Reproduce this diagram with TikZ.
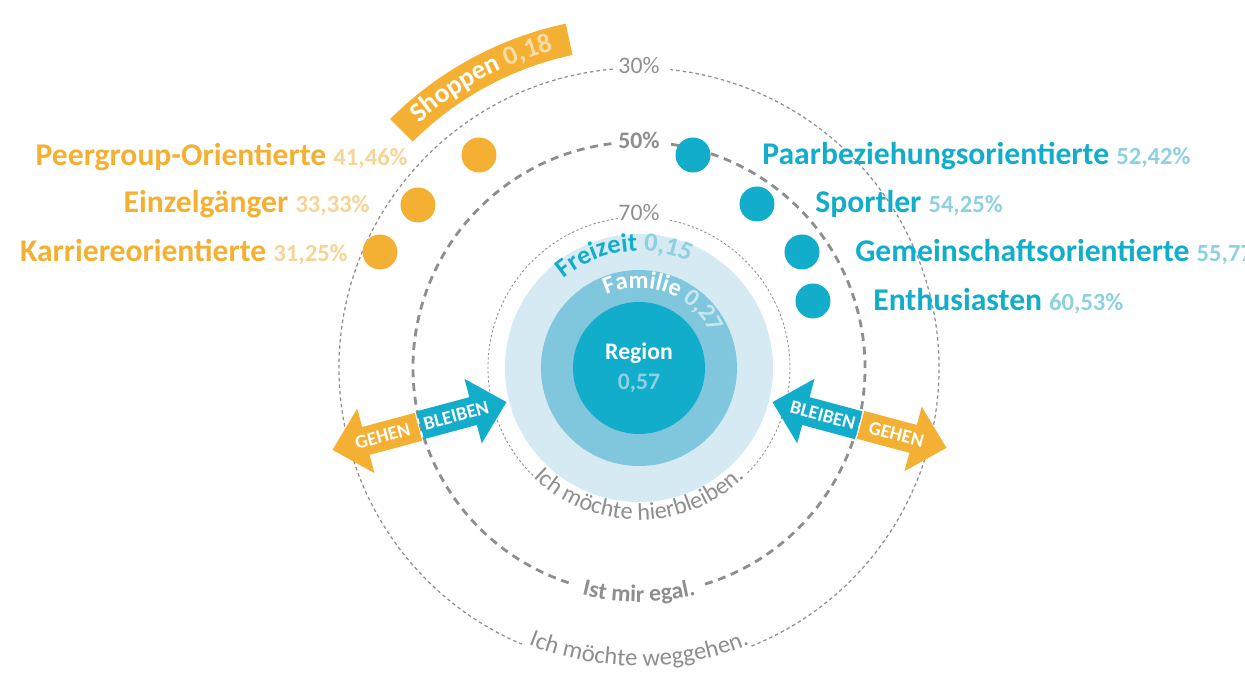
\documentclass[tikz,border=0pt]{standalone}
\usepackage{fontspec}
\setmainfont{Carlito}
\usetikzlibrary{shapes.arrows,decorations.text}

\definecolor{orangeA}{HTML}{F3B032}
\definecolor{orangeL}{HTML}{F7D396}
\definecolor{orangeP}{HTML}{FADDA6}
\definecolor{tealA}{HTML}{12ADCA}
\definecolor{tealL}{HTML}{8DD0E2}
\definecolor{tealP}{HTML}{C6E7F0}
\definecolor{ringF}{HTML}{D5EAF3}
\definecolor{ringM}{HTML}{80C7DD}
\definecolor{greyT}{HTML}{8E8E8E}

\newcommand{\anteil}[2]{\textcolor{#1}{\fontsize{14}{16}\selectfont #2}}

\begin{document}
\begin{tikzpicture}[x=0.02cm, y=0.02cm,
  ring30/.style={draw=greyT, line width=0.7pt, dash pattern=on 2pt off 1.7pt},
  ring50/.style={draw=greyT, line width=1.6pt, dash pattern=on 4.5pt off 3.3pt},
  ring70/.style={draw=greyT, line width=0.5pt, dash pattern=on 1.3pt off 1.3pt},
  ringlbl/.style={font=\fontsize{13.5}{15}\selectfont, text=greyT, inner sep=1pt},
  grp/.style={font=\fontsize{18}{21}\selectfont\bfseries, inner sep=0pt},
  dot/.style={circle, minimum size=0.7cm, inner sep=0pt},
  arrowbox/.style={single arrow, single arrow head extend=0.38cm, single arrow tip angle=88,
    minimum height=1.78cm, text height=7pt, text depth=0pt, inner ysep=4.5pt, inner xsep=2pt,
    font=\fontsize{11}{13}\selectfont\bfseries, text=white}]
\useasboundingbox (-639,-310) rectangle (606,368);
\clip (-639,-310) rectangle (606,368);

\fill[ringF] (0,0) circle[radius=134];
\fill[ringM] (0,0) circle[radius=98];
\fill[tealA] (0,0) circle[radius=66];
\node[align=center, font=\fontsize{13.5}{17}\selectfont\bfseries, text=white] (region) at (0,0) {Region\\\textcolor{tealL}{0,57}};

\path[decorate, decoration={text along path, text align=center,
  text={|\fontsize{15}{17}\selectfont\bfseries\color{tealA}|Freizeit |+\color{tealL}|0,15}}]
  (155:117) arc[start angle=155, end angle=40, radius=117];
\path[decorate, decoration={text along path, text align=center,
  text={|\fontsize{14}{16}\selectfont\bfseries\color{white}|Familie |+\color{tealP}|0,27}}]
  (160:80) arc[start angle=160, end angle=-20, radius=80];

\draw[ring30] (95:300) arc[start angle=95, end angle=247, radius=300];
\draw[ring30] (292:300) arc[start angle=292, end angle=444, radius=300];
\draw[ring50] (97:226) arc[start angle=97, end angle=252, radius=226];
\draw[ring50] (287:226) arc[start angle=287, end angle=442, radius=226];
\draw[ring70] (98:151) arc[start angle=98, end angle=226, radius=151];
\draw[ring70] (316:151) arc[start angle=316, end angle=439, radius=151];

\node[ringlbl] (p30) at (0,302) {30\%};
\node[ringlbl, font=\fontsize{13.5}{15}\selectfont\bfseries] (p50) at (0,228) {50\%};
\node[ringlbl] (p70) at (0,155) {70\%};

\path[decorate, decoration={text along path, text align=center,
  text={|\fontsize{13.8}{15}\selectfont\color{greyT}|Ich möchte hierbleiben.}}]
  (200:152) arc[start angle=200, end angle=340, radius=152];
\path[decorate, decoration={text along path, text align=center,
  text={|\fontsize{13.5}{15}\selectfont\bfseries\color{greyT}|Ist mir egal.}}]
  (215:234) arc[start angle=215, end angle=325, radius=234];
\path[decorate, decoration={text along path, text align=center,
  text={|\fontsize{14}{16}\selectfont\color{greyT}|Ich möchte weggehen.}}]
  (230:298) arc[start angle=230, end angle=310, radius=298];

\fill[orangeA] (102:320) arc[start angle=102, end angle=135, radius=320]
  -- (135:352) arc[start angle=135, end angle=102, radius=352] -- cycle;
\path[decorate, decoration={text along path, text align=center,
  text={|\fontsize{15.5}{17}\selectfont\bfseries\color{white}|Shoppen |+\color{orangeP}|0,18}}]
  (135:329) arc[start angle=135, end angle=102, radius=329];

\node[dot, fill=orangeA] (peerdot) at (-160,213) {};
\node[dot, fill=orangeA] (einzeldot) at (-221,163) {};
\node[dot, fill=orangeA] (karrieredot) at (-259,116) {};
\node[dot, fill=tealA] (paardot) at (54,213) {};
\node[dot, fill=tealA] (sportdot) at (118,164) {};
\node[dot, fill=tealA] (gemeindot) at (163,116) {};
\node[dot, fill=tealA] (enthusdot) at (174,67) {};

\node[grp, anchor=base east, text=orangeA] (peer) at (-231,202) {Peergroup-Orientierte \anteil{orangeL}{41,46\%}};
\node[grp, anchor=base east, text=orangeA] (einzel) at (-269,155) {Einzelgänger \anteil{orangeL}{33,33\%}};
\node[grp, anchor=base east, text=orangeA] (karriere) at (-291,106) {Karriereorientierte \anteil{orangeL}{31,25\%}};
\node[grp, anchor=base west, text=tealA] (paar) at (123,203) {Paarbeziehungsorientierte \anteil{tealL}{52,42\%}};
\node[grp, anchor=base west, text=tealA] (sport) at (176,155) {Sportler \anteil{tealL}{54,25\%}};
\node[grp, anchor=base west, text=tealA] (gemein) at (216,106) {Gemeinschaftsorientierte \anteil{tealL}{55,77\%}};
\node[grp, anchor=base west, text=tealA] (enthus) at (234,57) {Enthusiasten \anteil{tealL}{60,53\%}};

\node[arrowbox, fill=orangeA, shape border rotate=180, rotate=15, anchor=tip] (gehenL) at (-307,-82) {GEHEN};
\node[arrowbox, fill=tealA, rotate=15, anchor=tip] (bleibenL) at (-132,-34) {BLEIBEN};
\node[arrowbox, fill=tealA, shape border rotate=180, rotate=-15, anchor=tip] (bleibenR) at (133,-34) {BLEIBEN};
\node[arrowbox, fill=orangeA, rotate=-15, anchor=tip] (gehenR) at (308,-80) {GEHEN};
\end{tikzpicture}
\end{document}
